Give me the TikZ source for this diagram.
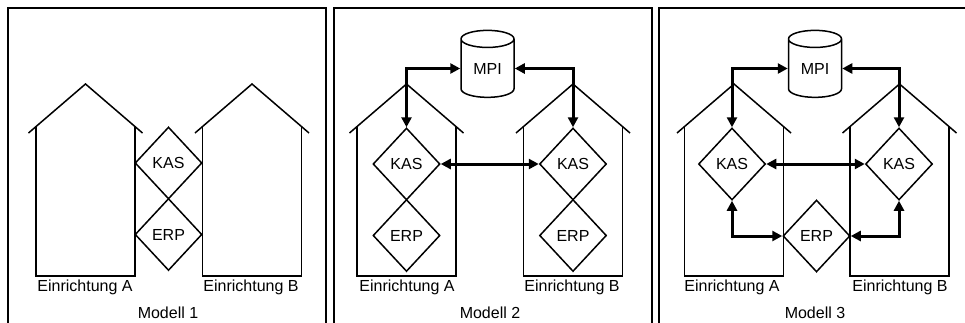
\documentclass[tikz,border=0pt]{standalone}
\usepackage{fontspec}
\setmainfont{Liberation Sans}
\usetikzlibrary{
  positioning,
  arrows.meta,
  shapes.geometric
}

\begin{document}
\begin{tikzpicture}[
  x=1pt, y=-1pt,
  font=\fontsize{16}{19}\selectfont,
  panel/.style={draw, line width=2pt},
  wall/.style={line width=1.5pt},
  dia/.style={draw, diamond, line width=1.5pt, inner sep=0pt,
              minimum width=67pt, minimum height=72pt, fill=white},
  db/.style={draw, cylinder, shape border rotate=90, aspect=0.6,
             line width=1.5pt, minimum width=53pt, minimum height=67pt,
             inner sep=0pt},
  link/.style={line width=3pt, {Triangle[length=10pt,width=10pt]}-{Triangle[length=10pt,width=10pt]}}
]
  \useasboundingbox (0,0) rectangle (965,322);
  \clip (0,0) rectangle (965,322);

  % Rahmen
  \draw[panel] (8,8) rectangle (326,340);
  \draw[panel] (334,8) rectangle (652,340);
  \draw[panel] (659,8) rectangle (980,340);

  % Haeuser
  \foreach \c in {85.5,252,406.5,573,734,899.5} {
    \draw[wall] (\c-57,133) -- (\c,84) -- (\c+57,133);
    \draw[wall] (\c-49.5,126.6) -- (\c-49.5,276) -- (\c+49.5,276) -- (\c+49.5,126.6);
  }

  % Modell 1
  \node[dia] (kas1) at (168.5,163) {KAS};
  \node[dia] (erp1) at (168.5,234.5) {ERP};
  \node (ea1) at (85,287) {Einrichtung A};
  \node (eb1) at (251,287) {Einrichtung B};
  \node (m1) at (168,313) {Modell 1};

  % Modell 2
  \node[db] (mpi2) at (487.5,68.5) {MPI};
  \node[dia] (kasa2) at (406.5,164) {KAS};
  \node[dia] (erpa2) at (406.5,235.5) {ERP};
  \node[dia] (kasb2) at (573,164) {KAS};
  \node[dia] (erpb2) at (573,235.5) {ERP};
  \node (ea2) at (407,287) {Einrichtung A};
  \node (eb2) at (572,287) {Einrichtung B};
  \node (m2) at (490,313) {Modell 2};
  \draw[link] (mpi2.west) -| (kasa2.north);
  \draw[link] (mpi2.east) -| (kasb2.north);
  \draw[link] (kasa2.east) -- (kasb2.west);

  % Modell 3
  \node[db] (mpi3) at (815,68.5) {MPI};
  \node[dia] (kasa3) at (732,164) {KAS};
  \node[dia] (kasb3) at (899,164) {KAS};
  \node[dia] (erp3) at (816.5,236) {ERP};
  \node (ea3) at (732,287) {Einrichtung A};
  \node (eb3) at (900,287) {Einrichtung B};
  \node (m3) at (815,313) {Modell 3};
  \draw[link] (mpi3.west) -| (kasa3.north);
  \draw[link] (mpi3.east) -| (kasb3.north);
  \draw[link] (kasa3.east) -- (kasb3.west);
  \draw[link] (kasa3.south) |- (erp3.west);
  \draw[link] (kasb3.south) |- (erp3.east);
\end{tikzpicture}
\end{document}
